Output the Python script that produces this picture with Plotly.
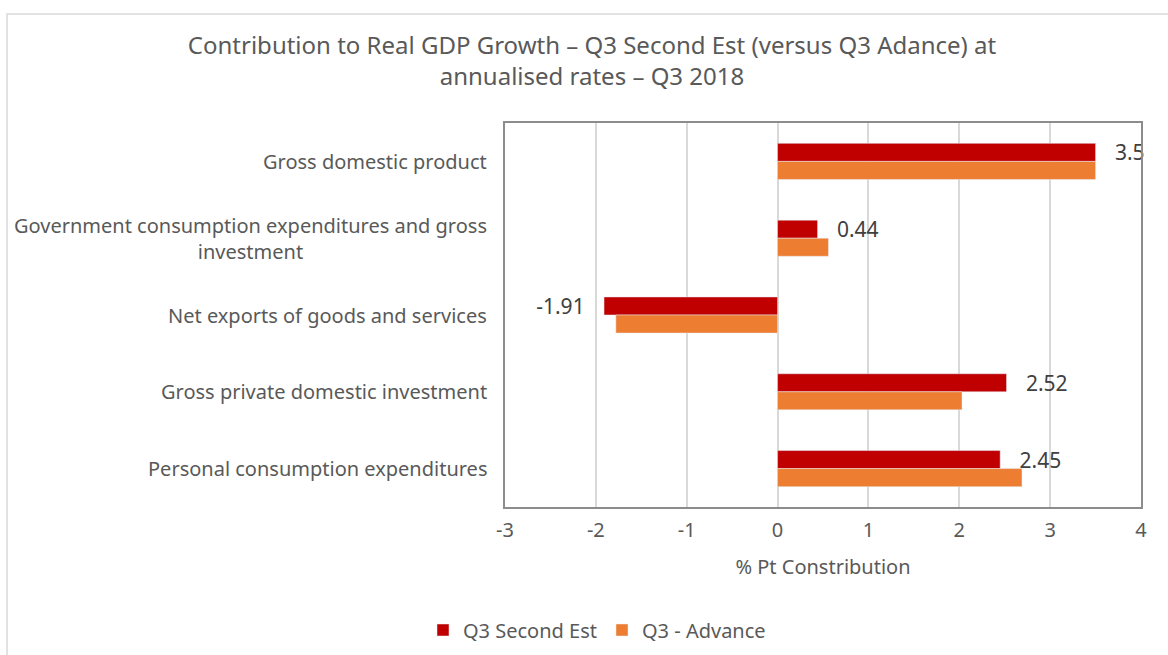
import plotly.graph_objects as go

categories = [
    "Gross domestic product",
    "Government consumption expenditures and gross<br>investment",
    "Net exports of goods and services",
    "Gross private domestic investment",
    "Personal consumption expenditures",
]
second_est = [3.5, 0.44, -1.91, 2.52, 2.45]
advance = [3.5, 0.56, -1.78, 2.03, 2.69]
x_ticks = [-3, -2, -1, 0, 1, 2, 3, 4]

FONT = "Noto Sans"
GREY = "#595959"
PAD = "\u00a0\u00a0\u00a0"

labels = [(PAD + f"{v:g}") if v >= 0 else (f"{v:g}" + PAD) for v in second_est]

fig = go.Figure()
fig.add_trace(go.Bar(
    y=categories, x=second_est, orientation="h", name="Q3 Second Est",
    marker=dict(color="#C00000"),
    text=labels, textposition="outside", constraintext="none",
    textfont=dict(size=21, color="#404040", family=FONT),
    cliponaxis=False,
))
fig.add_trace(go.Bar(
    y=categories, x=advance, orientation="h", name="Q3 - Advance",
    marker=dict(color="#ED7D31"),
))

annotations = []
for c in categories:
    annotations.append(dict(
        x=0, xref="paper", y=c, yref="y", text=c, showarrow=False,
        xanchor="right", xshift=-16, align="center",
        font=dict(size=20, color=GREY, family=FONT),
    ))

L, R, T, B = 505, 1141, 123, 507
W, H = R - L, B - T

fig.update_layout(
    width=1168, height=655,
    margin=dict(l=L, r=1168 - R, t=T, b=655 - B, autoexpand=False),
    paper_bgcolor="white", plot_bgcolor="white",
    font=dict(family=FONT, color=GREY, size=20),
    title=dict(
        text="Contribution to Real GDP Growth – Q3 Second Est (versus Q3 Adance) at<br>annualised rates – Q3 2018",
        x=592 / 1168, xanchor="center", y=1 - 54 / 655, yanchor="middle",
        font=dict(size=24, color=GREY, family=FONT),
    ),
    barmode="group", bargap=0.53, bargroupgap=0,
    xaxis=dict(
        range=[-3, 4], tickvals=x_ticks, ticktext=[str(t) for t in x_ticks],
        showgrid=True, gridcolor="#D9D9D9", gridwidth=1.5,
        zeroline=False, automargin=False,
        showline=True, linecolor="#8C8C8C", linewidth=2, mirror=True,
        ticks="outside", ticklen=4, tickcolor="rgba(0,0,0,0)",
        tickfont=dict(size=20, color=GREY),
        title=dict(text="% Pt Constribution", font=dict(size=20, color=GREY), standoff=18),
    ),
    yaxis=dict(
        autorange="reversed", showticklabels=False, showgrid=False,
        showline=True, linecolor="#8C8C8C", linewidth=2, mirror=True,
        ticks="", automargin=False,
    ),
    legend=dict(
        orientation="h", x=(597 - L) / W, xanchor="center",
        y=(B - 630) / H, yanchor="middle",
        font=dict(size=20, color=GREY), itemwidth=30,
        traceorder="normal",
    ),
    annotations=annotations,
    shapes=[dict(
        type="rect", xref="paper", yref="paper",
        x0=(7 - L) / W, x1=(1180 - L) / W,
        y0=(B - 680) / H, y1=(B - 14) / H,
        line=dict(color="#D9D9D9", width=1.5), fillcolor="rgba(0,0,0,0)",
        layer="below",
    )],
)

fig.write_html("out.html")
